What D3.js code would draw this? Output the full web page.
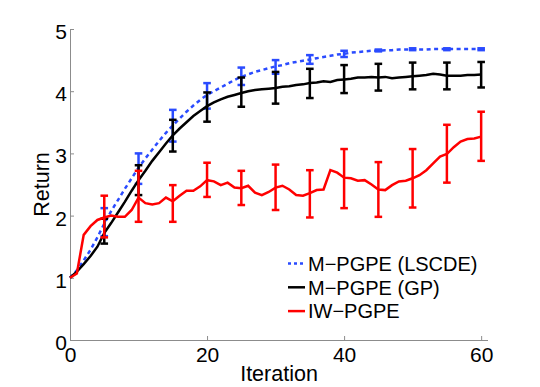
<!DOCTYPE html>
<html>
<head>
<meta charset="utf-8">
<script src="https://cdn.jsdelivr.net/npm/d3@7/dist/d3.min.js"></script>
<style>
  body { margin: 0; background: #fff; }
  text { font-family: "Liberation Sans", Arial, sans-serif; fill: #000; }
</style>
</head>
<body>
<svg id="chart" width="540" height="387"></svg>
<script>
// Return vs iteration for three policy-gradient variants

const iterations = d3.range(0, 61);

const lscde = [1.00, 1.12, 1.28, 1.45, 1.65, 1.87, 2.07, 2.25, 2.43, 2.60,
  2.77, 2.92, 3.06, 3.20, 3.33, 3.45, 3.56, 3.67, 3.77, 3.86,
  3.94, 4.00, 4.06, 4.12, 4.18, 4.23, 4.27, 4.31, 4.34, 4.37,
  4.40, 4.42, 4.45, 4.47, 4.49, 4.51, 4.53, 4.55, 4.57, 4.59,
  4.60, 4.62, 4.63, 4.64, 4.65, 4.65, 4.66, 4.66, 4.67, 4.67,
  4.67, 4.67, 4.67, 4.68, 4.68, 4.68, 4.68, 4.68, 4.68, 4.68, 4.68];

const gp = [1.00, 1.10, 1.22, 1.35, 1.50, 1.72, 1.88, 2.05, 2.22, 2.40,
  2.57, 2.72, 2.88, 3.02, 3.16, 3.29, 3.40, 3.50, 3.60, 3.68,
  3.76, 3.82, 3.87, 3.91, 3.94, 3.97, 4.00, 4.02, 4.03, 4.04,
  4.05, 4.07, 4.08, 4.10, 4.11, 4.13, 4.14, 4.16, 4.15, 4.18,
  4.19, 4.20, 4.22, 4.22, 4.23, 4.22, 4.23, 4.21, 4.22, 4.23,
  4.24, 4.25, 4.26, 4.28, 4.27, 4.25, 4.25, 4.25, 4.26, 4.26, 4.27];

const iw = [1.00, 1.07, 1.69, 1.83, 1.93, 1.97, 2.00, 1.98, 1.98, 2.09,
  2.29, 2.20, 2.18, 2.20, 2.29, 2.23, 2.32, 2.40, 2.40, 2.47,
  2.57, 2.55, 2.49, 2.53, 2.45, 2.44, 2.48, 2.37, 2.33, 2.38,
  2.45, 2.48, 2.42, 2.33, 2.32, 2.36, 2.41, 2.42, 2.73, 2.69,
  2.61, 2.60, 2.56, 2.57, 2.50, 2.42, 2.41, 2.49, 2.55, 2.56,
  2.60, 2.65, 2.73, 2.84, 2.95, 2.99, 3.10, 3.19, 3.23, 3.24, 3.27];

// error bars at every 5th iteration
const barIters = [5, 10, 15, 20, 25, 30, 35, 40, 45, 50, 55, 60];
const lscdeLo = [1.67, 2.51, 3.19, 3.72, 4.10, 4.28, 4.44, 4.55, 4.64, 4.66, 4.66, 4.66];
const lscdeHi = [2.12, 3.00, 3.70, 4.13, 4.38, 4.50, 4.58, 4.65, 4.67, 4.69, 4.69, 4.69];
const gpLo = [1.55, 2.33, 3.03, 3.51, 3.75, 3.80, 3.89, 3.97, 4.01, 4.03, 4.03, 4.06];
const gpHi = [1.95, 2.81, 3.54, 3.98, 4.22, 4.31, 4.36, 4.42, 4.44, 4.46, 4.46, 4.47];
const iwLo = [1.65, 1.90, 1.90, 2.30, 2.17, 2.09, 1.97, 2.12, 1.98, 2.13, 2.53, 2.88];
const iwHi = [2.32, 2.72, 2.49, 2.85, 2.72, 2.82, 2.73, 3.07, 2.86, 3.07, 3.46, 3.67];

const xTicks = [0, 20, 40, 60];
const yTicks = [0, 1, 2, 3, 4, 5];

const series = [
  {name: 'M\u2212PGPE (LSCDE)', vals: lscde, lo: lscdeLo, hi: lscdeHi, color: '#2a4bff', dash: '4,3.5'},
  {name: 'M\u2212PGPE (GP)', vals: gp, lo: gpLo, hi: gpHi, color: '#000000', dash: null},
  {name: 'IW\u2212PGPE', vals: iw, lo: iwLo, hi: iwHi, color: '#ff0000', dash: null}
];

const svg = d3.select('#chart');
const plotLeft = 70, plotRight = 488, plotTop = 29, plotBottom = 340;

const x = d3.scaleLinear().domain([0, 61]).range([plotLeft, plotRight]);
const y = d3.scaleLinear().domain([0, 5]).range([plotBottom, plotTop]);

// axes (left and bottom only, grey, inward ticks)
const axisColor = '#8c8c8c';
const xAxis = svg.append('g').attr('transform', `translate(0,${plotBottom})`)
  .call(d3.axisBottom(x).tickValues(xTicks).tickFormat(d3.format('d'))
    .tickSize(-4).tickSizeOuter(0).tickPadding(7));
const yAxis = svg.append('g').attr('transform', `translate(${plotLeft},0)`)
  .call(d3.axisLeft(y).tickValues(yTicks).tickFormat(d3.format('d'))
    .tickSize(-4).tickSizeOuter(0).tickPadding(3));
[xAxis, yAxis].forEach(g => {
  g.selectAll('path, line').attr('stroke', axisColor).attr('stroke-width', 1);
  g.selectAll('text').attr('font-size', 21).attr('fill', '#000')
    .style('font-family', '"Liberation Sans", Arial, sans-serif');
});
xAxis.select('.domain').attr('d', `M${plotLeft},0.5H${plotRight}`);
xAxis.selectAll('text').attr('dy', '0.71em');
yAxis.selectAll('text').attr('dy', '0.45em');

// axis labels
svg.append('text')
  .attr('x', (plotLeft + plotRight) / 2).attr('y', 381)
  .attr('text-anchor', 'middle').attr('font-size', 21.5)
  .text('Iteration');
svg.append('text')
  .attr('transform', `translate(48.5,${(plotTop + plotBottom) / 2}) rotate(-90)`)
  .attr('text-anchor', 'middle').attr('font-size', 21.5)
  .text('Return');

const line = d3.line().x((d, i) => x(iterations[i])).y(d => y(d));

series.forEach(s => {
  const g = svg.append('g');
  g.append('path')
    .datum(s.vals)
    .attr('d', line)
    .attr('fill', 'none')
    .attr('stroke', s.color)
    .attr('stroke-width', 2.5)
    .attr('stroke-dasharray', s.dash);

  const bars = g.selectAll('g.bar')
    .data(barIters.map((it, i) => ({it, lo: s.lo[i], hi: s.hi[i]})))
    .enter().append('g').attr('class', 'bar');
  bars.append('line')
    .attr('x1', d => x(d.it)).attr('x2', d => x(d.it))
    .attr('y1', d => y(d.lo)).attr('y2', d => y(d.hi))
    .attr('stroke', s.color).attr('stroke-width', 2.5);
  ['lo', 'hi'].forEach(k => {
    bars.append('line')
      .attr('x1', d => x(d.it) - 3.8).attr('x2', d => x(d.it) + 3.8)
      .attr('y1', d => y(d[k])).attr('y2', d => y(d[k]))
      .attr('stroke', s.color).attr('stroke-width', 2.5);
  });
});

// legend
const legend = svg.append('g');
series.forEach((s, i) => {
  const ly = 263.5 + i * 23.8;
  legend.append('line')
    .attr('x1', 288).attr('x2', 305).attr('y1', ly).attr('y2', ly)
    .attr('stroke', s.color).attr('stroke-width', 2.5)
    .attr('stroke-dasharray', s.dash ? '3,3' : null);
  legend.append('text')
    .attr('x', 308).attr('y', ly + 7.2)
    .attr('font-size', 20)
    .text(s.name);
});
</script>
</body>
</html>
